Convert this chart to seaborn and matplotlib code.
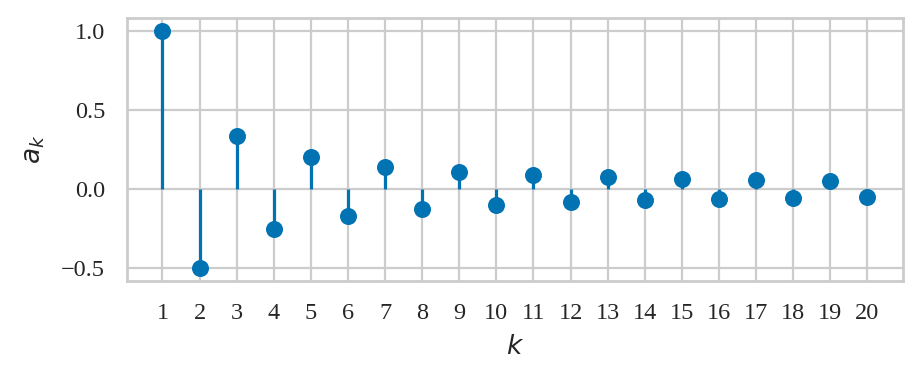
import matplotlib
matplotlib.use("Agg")
import matplotlib.pyplot as plt
import seaborn as sns
import pandas as pd

k_values = list(range(1, 21))
a_values = [1.0, -0.5, 0.3333, -0.25, 0.2, -0.1667, 0.1429, -0.125, 0.1111, -0.1,
            0.0909, -0.0833, 0.0769, -0.0714, 0.0667, -0.0625, 0.0588, -0.0556, 0.0526, -0.05]
x_tick_labels = [str(k) for k in k_values]
y_ticks = [-0.5, 0.0, 0.5, 1.0]

sns.set_theme(style="whitegrid", palette="colorblind")
plt.rcParams['font.family'] = ['Liberation Serif', 'DejaVu Serif']
plt.rcParams['mathtext.fontset'] = 'dejavusans'
plt.rcParams['axes.unicode_minus'] = True

color = sns.color_palette("colorblind")[0]
df = pd.DataFrame({"k": k_values, "a": a_values})

fig = plt.figure(figsize=(9.22, 3.86), dpi=100)
ax = fig.add_axes([0.138, 0.272, 0.841, 0.681])

ax.vlines(df["k"], 0, df["a"], color=color, linewidth=2.3, zorder=2)
sns.scatterplot(data=df, x="k", y="a", color=color, s=150, edgecolor=color,
                linewidth=0, ax=ax, zorder=3)

ax.set_xticks(k_values)
ax.set_xticklabels(x_tick_labels)
ax.set_yticks(y_ticks)
ax.set_yticklabels(["\u22120.5", "0.0", "0.5", "1.0"])
ax.set_xlim(0.05, 20.95)
ax.set_ylim(-0.58, 1.08)

for s in ax.spines.values():
    s.set_color("#cccccc")
    s.set_linewidth(2.0)
ax.grid(True, color="#cccccc", linewidth=1.6)
ax.tick_params(axis="both", labelsize=17.5, pad=16, length=0, labelcolor="#262626")

ax.set_xlabel("$k$", fontsize=19, labelpad=8, color="#262626")
ax.set_ylabel("$a_k$", fontsize=19, labelpad=10, color="#262626")

fig.savefig("out.png", dpi=100)
